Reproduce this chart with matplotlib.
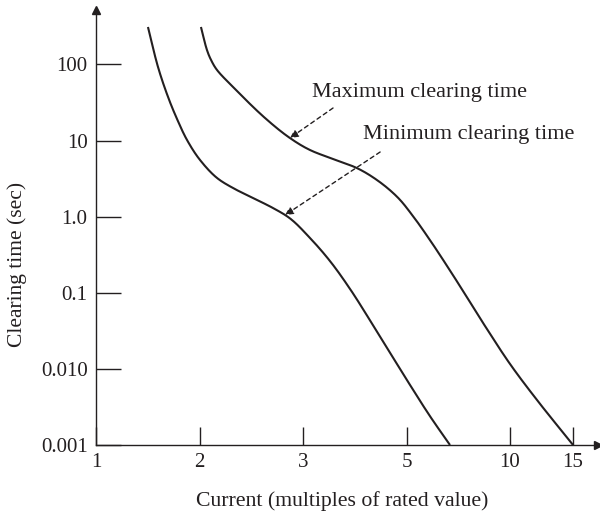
import numpy as np
import matplotlib
matplotlib.use("Agg")
import matplotlib.pyplot as plt
from matplotlib.ticker import NullLocator

# ---- data ----
x_tick_values = [1, 2, 3, 5, 10, 15]
x_tick_labels = ["1", "2", "3", "5", "10", "15"]
y_tick_values = [0.001, 0.01, 0.1, 1.0, 10, 100]
y_tick_labels = ["0.001", "0.010", "0.1", "1.0", "10", "100"]

min_current = [1.502, 1.599, 1.696, 1.783, 1.879, 2.005, 2.169, 2.324, 2.517,
               2.710, 2.874, 3.135, 3.52, 3.91, 4.35, 5.02, 6.13, 7.10]
min_time = [311, 92.7, 37.4, 19.2, 10.2, 5.56, 3.23, 2.38, 1.76,
            1.30, 0.95, 0.525, 0.262, 0.112, 0.0378, 0.00714, 0.00240, 0.001]

max_current = [2.014, 2.072, 2.111, 2.169, 2.324, 2.633, 2.874, 3.135, 3.58,
               4.04, 4.43, 4.82, 5.31, 6.13, 6.96, 7.73, 8.79, 10.0, 12.14, 15]
max_time = [311, 155, 115, 84.7, 50.6, 19.8, 10.8, 7.52, 5.73,
            4.36, 3.03, 1.82, 1.02, 0.494, 0.225, 0.1057, 0.0367, 0.0116,
            0.0039, 0.001]

# schematic (non-uniform) current axis: ticks evenly spaced, 15 at a partial step
scale_vals = np.array([1, 2, 3, 5, 10, 15, 20], dtype=float)
scale_pos = np.array([0, 1, 2, 3, 4, 4.609, 5.218])


def fwd(v):
    return np.interp(np.asarray(v, dtype=float), scale_vals, scale_pos)


def inv(p):
    return np.interp(np.asarray(p, dtype=float), scale_pos, scale_vals)


def smooth_path(xs, ys, n=30):
    """Centripetal Catmull-Rom through the read points, in axis (scaled) space,
    used only to draw the curve smoothly."""
    P = np.column_stack([fwd(xs), np.log10(ys) / 0.735])
    P = np.vstack([2 * P[0] - P[1], P, 2 * P[-1] - P[-2]])
    out = []
    for i in range(1, len(P) - 2):
        p0, p1, p2, p3 = P[i - 1], P[i], P[i + 1], P[i + 2]
        a = 0.5
        t0 = 0.0
        t1 = t0 + np.linalg.norm(p1 - p0) ** a
        t2 = t1 + np.linalg.norm(p2 - p1) ** a
        t3 = t2 + np.linalg.norm(p3 - p2) ** a
        t = np.linspace(t1, t2, n, endpoint=(i == len(P) - 3))[:, None]
        A1 = (t1 - t) / (t1 - t0) * p0 + (t - t0) / (t1 - t0) * p1
        A2 = (t2 - t) / (t2 - t1) * p1 + (t - t1) / (t2 - t1) * p2
        A3 = (t3 - t) / (t3 - t2) * p2 + (t - t2) / (t3 - t2) * p3
        B1 = (t2 - t) / (t2 - t0) * A1 + (t - t0) / (t2 - t0) * A2
        B2 = (t3 - t) / (t3 - t1) * A2 + (t - t1) / (t3 - t1) * A3
        C = (t2 - t) / (t2 - t1) * B1 + (t - t1) / (t2 - t1) * B2
        out.append(C)
    C = np.vstack(out)
    return inv(C[:, 0]), 10 ** (C[:, 1] * 0.735)


ink = "#231f20"
plt.rcParams["font.family"] = ["Liberation Serif", "DejaVu Serif"]

fig = plt.figure(figsize=(6.0, 5.11), dpi=100)
ax = fig.add_axes([96 / 600, 66 / 511, (598 - 96) / 600, (445 - 10) / 511])

ax.set_xscale("function", functions=(fwd, inv))
ax.set_yscale("log")

for xs, ys in [(min_current, min_time), (max_current, max_time)]:
    sx, sy = smooth_path(xs, ys)
    ax.plot(sx, sy, color=ink, lw=1.5, solid_capstyle="butt")

ax.set_xlim(1, inv(4.85))
ax.set_ylim(0.001, 10 ** 2.716)

ax.set_xticks(x_tick_values)
ax.set_xticklabels(x_tick_labels)
ax.set_yticks(y_tick_values)
ax.set_yticklabels(y_tick_labels)
ax.xaxis.set_minor_locator(NullLocator())
ax.yaxis.set_minor_locator(NullLocator())

ax.tick_params(axis="y", direction="in", length=18, width=1.0, color=ink,
               labelsize=15, labelcolor=ink, pad=6)
ax.tick_params(axis="x", direction="in", length=13, width=1.0, color=ink,
               labelsize=15, labelcolor=ink, pad=6)

for s in ["top", "right"]:
    ax.spines[s].set_visible(False)
for s in ["left", "bottom"]:
    ax.spines[s].set_color(ink)
    ax.spines[s].set_linewidth(1.0)

# axis arrows
ax.plot(1, 0, marker=">", color=ink, markersize=6, transform=ax.transAxes,
        clip_on=False)
ax.plot(0, 1, marker="^", color=ink, markersize=6, transform=ax.transAxes,
        clip_on=False)

ax.set_xlabel("Current (multiples of rated value)", fontsize=15.7, color=ink)
ax.xaxis.set_label_coords(0.49, -0.105)
ax.set_ylabel("Clearing time (sec)", fontsize=15.5, color=ink)
ax.yaxis.set_label_coords(-0.137, 0.414)

arrow = dict(arrowstyle="-|>", linestyle=(0, (3, 2.5)), color=ink, lw=1.0,
             mutation_scale=12, shrinkA=0, shrinkB=0)
ax.annotate("", xy=(2.874, 10.8), xytext=(3.58, 26.8), arrowprops=arrow)
ax.annotate("", xy=(2.826, 1.05), xytext=(4.49, 7.08), arrowprops=arrow)
ax.text(3.17, 42.3, "Maximum clearing time", fontsize=16, color=ink,
        ha="left", va="center")
ax.text(4.16, 11.9, "Minimum clearing time", fontsize=16, color=ink,
        ha="left", va="center")

fig.savefig("out.png", dpi=100)
